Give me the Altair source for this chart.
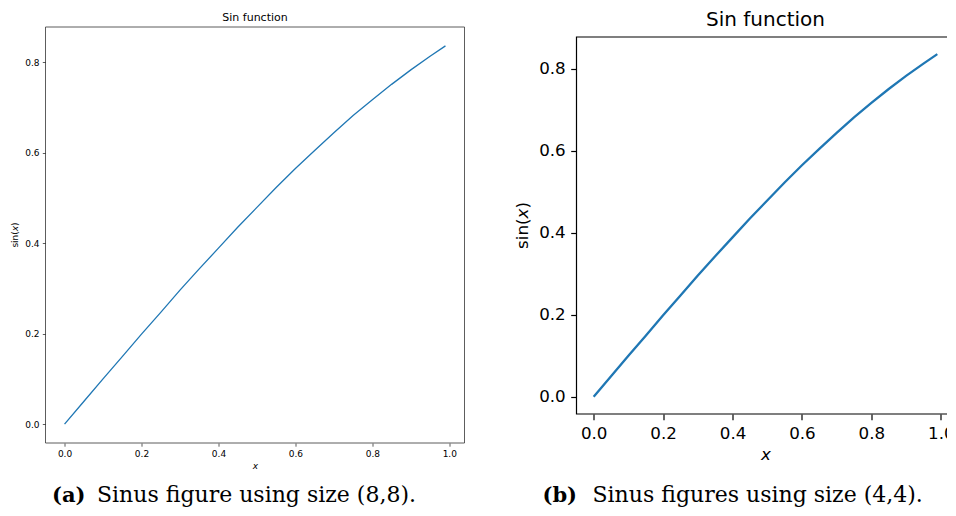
import altair as alt
import pandas as pd

# ---- data ----
x_vals = [0.00, 0.05, 0.10, 0.15, 0.20, 0.25, 0.30, 0.35, 0.40, 0.45, 0.50,
          0.55, 0.60, 0.65, 0.70, 0.75, 0.80, 0.85, 0.90, 0.95, 0.99]
y_vals = [0.000, 0.050, 0.100, 0.149, 0.199, 0.247, 0.296, 0.343, 0.389, 0.435, 0.479,
          0.523, 0.565, 0.605, 0.644, 0.682, 0.717, 0.751, 0.783, 0.813, 0.836]
x_ticks = [0.0, 0.2, 0.4, 0.6, 0.8, 1.0]
y_ticks = [0.0, 0.2, 0.4, 0.6, 0.8]
title_text = "Sin function"
ylabel_parts = ["sin(", "x", ")"]
xlabel_text = "x"
cap_tags = ["(a)", "(b)"]
cap_texts = ["Sinus figure using size (8,8).", "Sinus figures using size (4,4)."]

df = pd.DataFrame({"x": x_vals, "y": y_vals})
x_dom = [-0.0495, 1.0395]
y_dom = [-0.0418, 0.8778]

FONT = "DejaVu Sans"
SERIF = "DejaVu Serif"
one = pd.DataFrame({"k": [0]})


def panel(w, h, top_gap, fs_lab, fs_title, lw, sw, tick, pad, xtitle_pad,
          spine_col, ylab_x, title_y, tag, cap, tag_x, cap_x, cap_y):
    H = h + top_gap
    axis_common = dict(labelFont=FONT, labelFontSize=fs_lab, labelColor="black",
                       labelPadding=pad, labelFlush=False, tickSize=tick,
                       tickColor=spine_col, tickWidth=sw, domain=False, grid=False,
                       format=".1f")
    line = alt.Chart(df).mark_line(color="#1f77b4", strokeWidth=lw, clip=False).encode(
        x=alt.X("x:Q", scale=alt.Scale(domain=x_dom, nice=False, zero=False),
                axis=alt.Axis(values=x_ticks, title=xlabel_text,
                              titleFont=FONT, titleFontStyle="italic",
                              titleFontWeight="normal", titleFontSize=fs_lab,
                              titleColor="black", titlePadding=xtitle_pad, **axis_common)),
        y=alt.Y("y:Q", scale=alt.Scale(domain=y_dom, nice=False, zero=False, range=[H, top_gap]),
                axis=alt.Axis(values=y_ticks, title=None, **axis_common)),
    )
    frame = alt.Chart(one).mark_rect(filled=False, stroke=spine_col, strokeWidth=sw).encode(
        x=alt.value(0), x2=alt.value(w), y=alt.value(top_gap), y2=alt.value(H))
    layers = [frame, line]
    # title
    layers.append(alt.Chart(pd.DataFrame({"t": [title_text]})).mark_text(
        font=FONT, fontSize=fs_title, baseline="middle", align="center", color="black"
    ).encode(x=alt.value(w / 2), y=alt.value(title_y), text="t:N"))
    # y label "sin(x)" with italic x, rotated
    widths = [1.823, 0.592, 0.390]
    total = sum(widths) * fs_lab
    start = top_gap + h / 2 + total / 2
    offs = 0.0
    for part, wd in zip(ylabel_parts, widths):
        layers.append(
            alt.Chart(pd.DataFrame({"t": [part]})).mark_text(
                font=FONT, fontSize=fs_lab, angle=270, align="left", baseline="middle",
                color="black", fontStyle="italic" if part == "x" else "normal",
            ).encode(x=alt.value(ylab_x), y=alt.value(start - offs), text="t:N")
        )
        offs += wd * fs_lab
    layers.append(alt.Chart(pd.DataFrame({"t": [tag]})).mark_text(
        font=SERIF, fontSize=21, fontWeight="bold", align="left",
        baseline="alphabetic", color="black"
    ).encode(x=alt.value(tag_x), y=alt.value(cap_y), text="t:N"))
    layers.append(alt.Chart(pd.DataFrame({"t": [cap]})).mark_text(
        font=SERIF, fontSize=22, align="left", baseline="alphabetic", color="black"
    ).encode(x=alt.value(cap_x), y=alt.value(cap_y), text="t:N"))
    return alt.layer(*layers).properties(
        width=w, height=H,
        view=alt.ViewBackground(strokeOpacity=0, stroke="white"),
    )


# left plot frame: x 45.5-465, y 27-443 ; right plot frame: x 577-955, y 37-414
left = panel(419, 416, 0, 9, 11, 1.3, 0.8, 3.2, 3.2, 3, "#333333", -30.5, -9.5,
             cap_tags[0], cap_texts[0], 6.5, 51.5, 475)
right = panel(378, 377, 10, 16.7, 20, 2.3, 1.2, 5.8, 5.5, 4, "black", -53.5, -7,
              cap_tags[1], cap_texts[1], -34, 16, 475)

chart = alt.hconcat(left, right, spacing=112, bounds="flush").properties(
    padding={"left": 2.5, "top": 2, "right": -9, "bottom": 1},
    background="white",
)
chart.save("out.html", embed_options={"renderer": "svg", "actions": False})
